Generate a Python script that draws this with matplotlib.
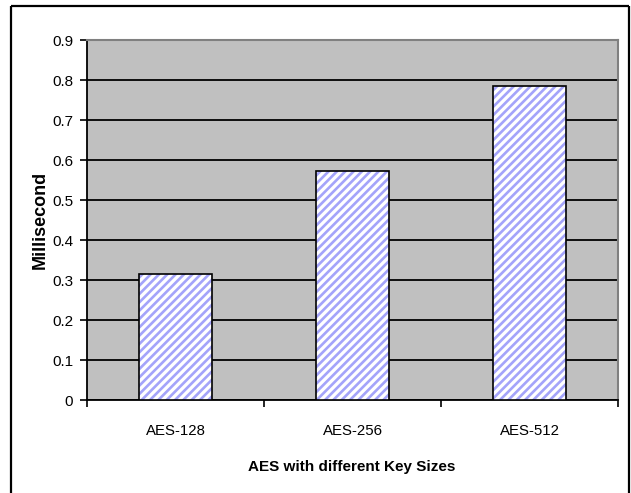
import matplotlib
matplotlib.use("Agg")
import matplotlib.pyplot as plt
from matplotlib.lines import Line2D
from matplotlib.ticker import FixedLocator, NullFormatter

categories = ["AES-128", "AES-256", "AES-512"]
times_ms = [0.315, 0.572, 0.786]
y_ticks = [0, 0.1, 0.2, 0.3, 0.4, 0.5, 0.6, 0.7, 0.8, 0.9]
y_tick_labels = ["0", "0.1", "0.2", "0.3", "0.4", "0.5", "0.6", "0.7", "0.8", "0.9"]

W, H = 631, 493
fig = plt.figure(figsize=(W / 100, H / 100), dpi=100)
fig.patch.set_facecolor("white")

sans = ["Liberation Sans", "DejaVu Sans"]

# outer chart frame (bottom edge runs off the canvas)
frame_l, frame_t, frame_r = 11 / W, 1 - 6 / H, 629 / W
for xs, ys in (([frame_l, frame_l], [frame_t, -0.05]),
               ([frame_l, frame_r], [frame_t, frame_t]),
               ([frame_r, frame_r], [frame_t, -0.05])):
    fig.add_artist(Line2D(xs, ys, transform=fig.transFigure,
                          color="black", lw=1.6, solid_capstyle="butt"))

left, right, top, bottom = 87, 618, 40, 400
ax = fig.add_axes([left / W, 1 - bottom / H, (right - left) / W, (bottom - top) / H])
ax.set_facecolor("#C0C0C0")

x = list(range(len(categories)))
plt.rcParams["hatch.linewidth"] = 1.9
ax.bar(x, times_ms, width=0.41, color="white", edgecolor="#A4A4FA",
       hatch="////", linewidth=0, zorder=3)
ax.bar(x, times_ms, width=0.41, fill=False, edgecolor="black",
       linewidth=1.2, zorder=4)

ax.set_xlim(-0.5, len(categories) - 0.5)
ax.set_ylim(0, 0.9)

ax.set_yticks(y_ticks)
ax.set_yticklabels(y_tick_labels, family=sans, fontsize=11)
ax.yaxis.grid(True, color="black", linewidth=1.3, zorder=1)
ax.set_axisbelow(True)

ax.xaxis.set_major_locator(FixedLocator([-0.5, 0.5, 1.5, 2.5]))
ax.xaxis.set_major_formatter(NullFormatter())
ax.xaxis.set_minor_locator(FixedLocator(x))
ax.set_xticklabels(categories, minor=True, family=sans, fontsize=10.8)
ax.tick_params(axis="x", which="minor", length=0, pad=17)
ax.tick_params(axis="x", which="major", length=5, width=1.2, color="black")
ax.tick_params(axis="y", length=5, width=1.2, color="black", pad=5)

for side in ("left", "bottom"):
    ax.spines[side].set_color("black")
    ax.spines[side].set_linewidth(1.3)
for side in ("top", "right"):
    ax.spines[side].set_color("#808080")
    ax.spines[side].set_linewidth(1.5)

fig.text(352 / W, 1 - 467 / H, "AES with different Key Sizes", family=sans,
         fontweight="bold", fontsize=11, ha="center", va="center")
fig.text(40 / W, 1 - 220 / H, "Millisecond", family=sans, fontweight="bold",
         fontsize=13, rotation=90, ha="center", va="center")

fig.savefig("out.png", dpi=100, facecolor="white")
